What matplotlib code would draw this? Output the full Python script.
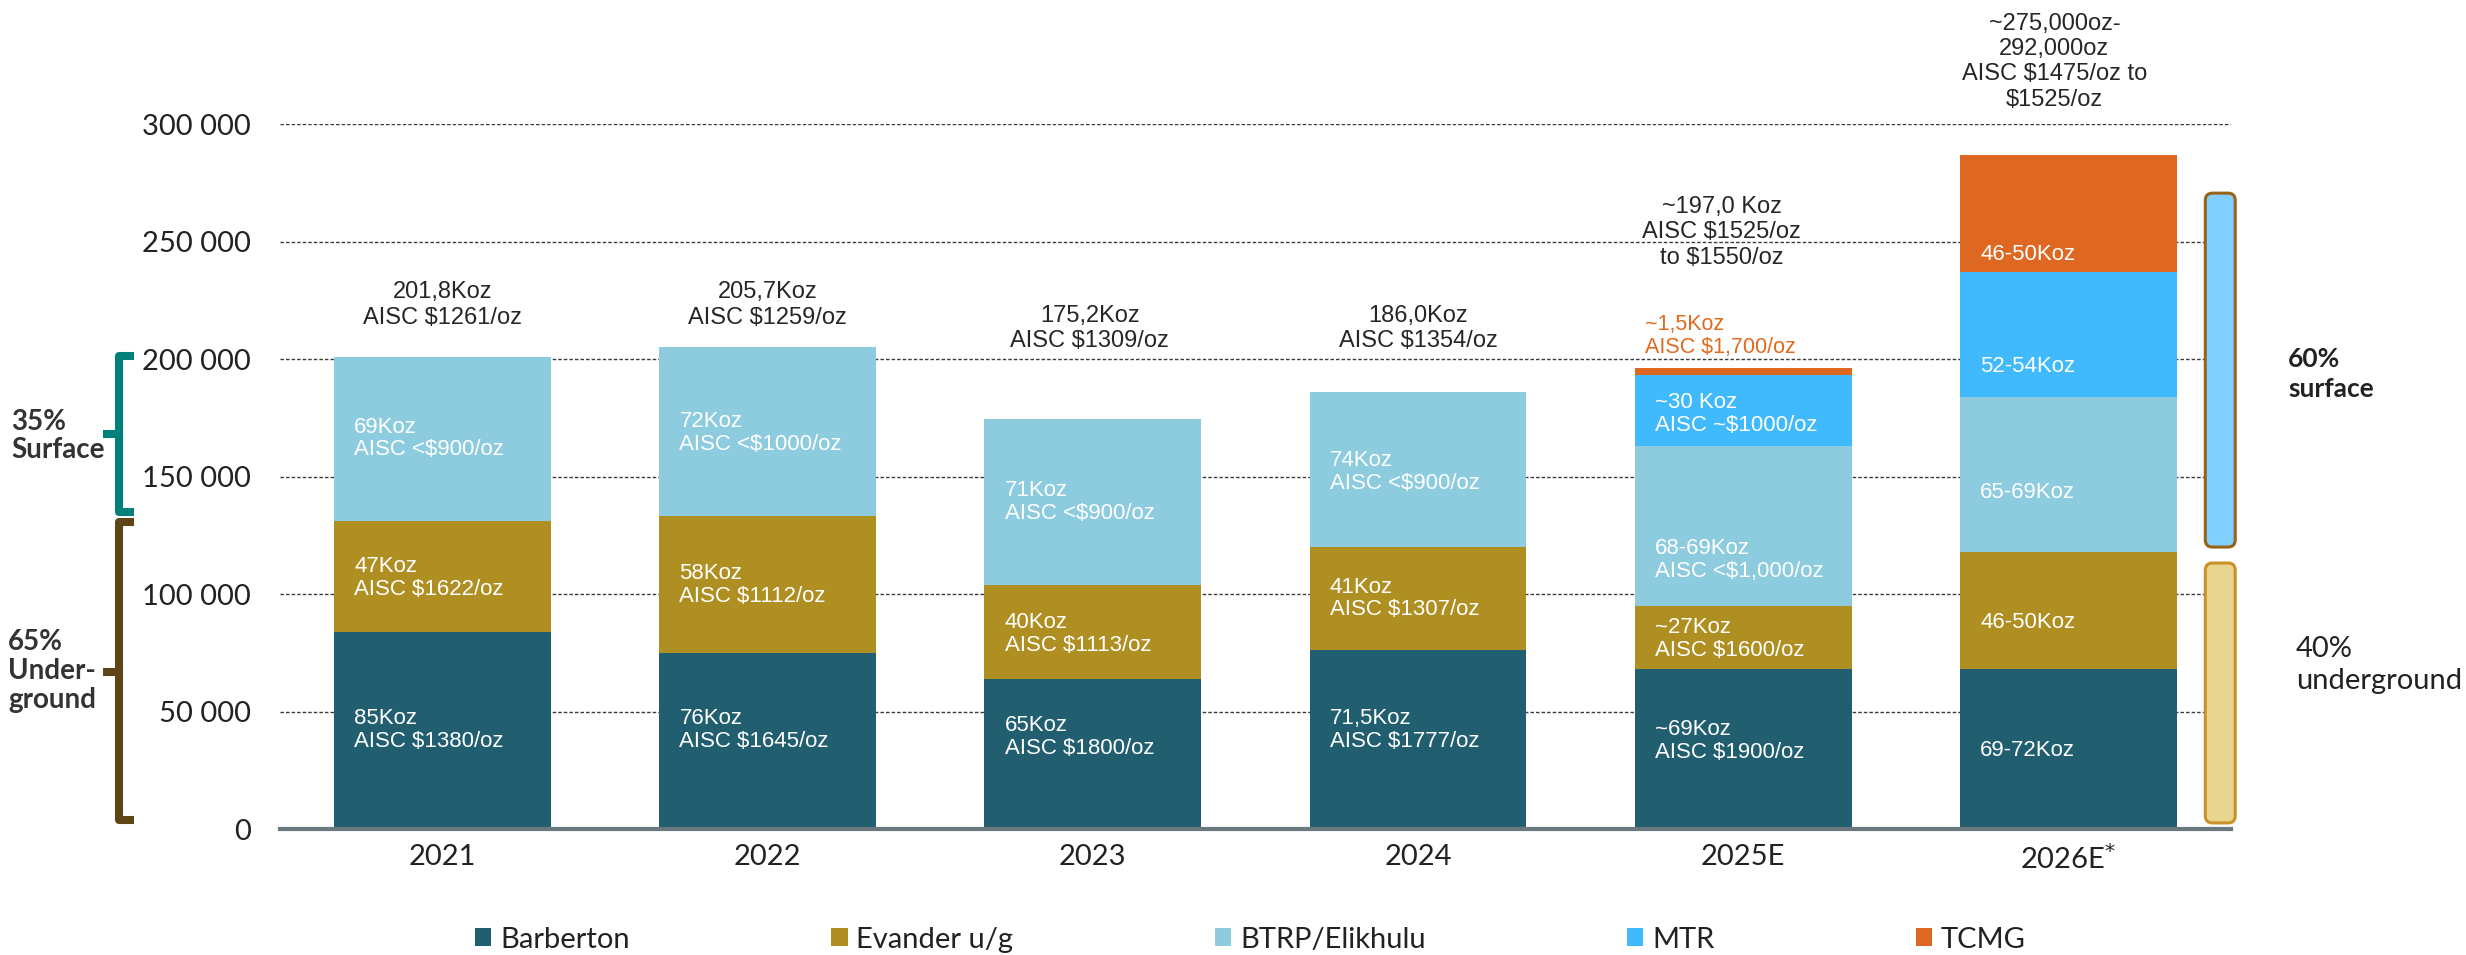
import numpy as np
import matplotlib.pyplot as plt
from matplotlib.patches import FancyBboxPatch
from matplotlib.transforms import blended_transform_factory

# data (oz)
years = ['2021', '2022', '2023', '2024', '2025E', '2026E$^{*}$']
barberton = [84000, 75000, 64000, 76300, 68000, 68000]
evander = [47000, 58200, 40000, 43700, 27000, 50000]
btrp = [70000, 71800, 70500, 66000, 68000, 66000]
mtr = [0, 0, 0, 0, 30000, 53000]
tcmg = [0, 0, 0, 0, 3000, 50000]

series_names = ['Barberton', 'Evander u/g', 'BTRP/Elikhulu', 'MTR', 'TCMG']
colors = ['#215F70', '#B08F22', '#8DCBDE', '#40BAFD', '#DE6821']

# text inside the bars
lbl_barberton = ['85Koz\nAISC $1380/oz', '76Koz\nAISC $1645/oz', '65Koz\nAISC $1800/oz',
                 '71,5Koz\nAISC $1777/oz', '~69Koz\nAISC $1900/oz', '69-72Koz']
lbl_evander = ['47Koz\nAISC $1622/oz', '58Koz\nAISC $1112/oz', '40Koz\nAISC $1113/oz',
               '41Koz\nAISC $1307/oz', '~27Koz\nAISC $1600/oz', '46-50Koz']
lbl_btrp = ['69Koz\nAISC <$900/oz', '72Koz\nAISC <$1000/oz', '71Koz\nAISC <$900/oz',
            '74Koz\nAISC <$900/oz', '68-69Koz\nAISC <$1,000/oz', '65-69Koz']
lbl_mtr = ['', '', '', '', '~30 Koz\nAISC ~$1000/oz', '52-54Koz']
lbl_tcmg = ['', '', '', '', '', '46-50Koz']

# label heights (layout)
pos_barberton = [42000, 42000, 39100, 42000, 37600, 33400]
pos_evander = [107000, 104000, 83000, 98100, 81000, 87900]
pos_btrp = [166200, 168700, 139100, 152100, 114600, 143000]
pos_mtr = [0, 0, 0, 0, 176700, 196700]
pos_tcmg = [0, 0, 0, 0, 0, 244700]

totals_lbl = ['201,8Koz\nAISC $1261/oz', '205,7Koz\nAISC $1259/oz', '175,2Koz\nAISC $1309/oz',
              '186,0Koz\nAISC $1354/oz', '~197,0 Koz\nAISC $1525/oz\nto $1550/oz',
              '~275,000oz-\n292,000oz\nAISC $1475/oz to\n$1525/oz']
totals_pos = [223000, 223000, 213000, 213000, 254000, 326500]
totals_dx = [0, 0, -0.01, 0, -0.066, -0.043]

fig = plt.figure(figsize=(24.66, 9.55), dpi=100)
ax = fig.add_axes([0.1135, 0.1319, 0.7912, 0.7382])

x = np.arange(len(years))
width = 0.667
all_vals = [barberton, evander, btrp, mtr, tcmg]
all_lbls = [lbl_barberton, lbl_evander, lbl_btrp, lbl_mtr, lbl_tcmg]
all_pos = [pos_barberton, pos_evander, pos_btrp, pos_mtr, pos_tcmg]

bottom = np.zeros(len(years))
handles = []
for vals, name, col in zip(all_vals, series_names, colors):
    h = ax.bar(x, vals, width, bottom=bottom, color=col, label=name, zorder=2)
    handles.append(h)
    bottom += np.array(vals)

for lbls, pos in zip(all_lbls, all_pos):
    for i, (t, p) in enumerate(zip(lbls, pos)):
        if t:
            ax.text(x[i] - width / 2 + 0.062, p, t, color='white', fontsize=16,
                    family='Liberation Sans', ha='left', va='center', linespacing=1.12, zorder=3)

for i, (t, p, dx) in enumerate(zip(totals_lbl, totals_pos, totals_dx)):
    ax.text(x[i] + dx, p, t, color='#262626', fontsize=17, family='Liberation Sans',
            ha='center', va='center', linespacing=1.2, clip_on=False)

# small TCMG note for 2025E
ax.text(x[4] - width / 2 + 0.03, 209800, '~1,5Koz\nAISC $1,700/oz', color='#E06A1E',
        fontsize=15.5, family='Liberation Sans', ha='left', va='center', linespacing=1.12)

ax.set_xlim(-0.5, 5.5)
ax.set_ylim(0, 300000)
ax.set_yticks(np.arange(0, 300001, 50000))
ax.set_yticklabels(['0', '50 000', '100 000', '150 000', '200 000', '250 000', '300 000'])
ax.set_xticks(x)
ax.set_xticklabels(years)
ax.tick_params(length=0, labelsize=21, labelcolor='#222222')
ax.tick_params(axis='y', pad=21)
ax.tick_params(axis='x', pad=11)
for lab in ax.get_xticklabels() + ax.get_yticklabels():
    lab.set_family('Lato')

ax.yaxis.grid(True, linestyle=(0, (2.5, 1.5)), linewidth=1.0, color='#3A3A3A')
ax.set_axisbelow(True)
for s in ['left', 'right', 'top']:
    ax.spines[s].set_visible(False)
ax.spines['bottom'].set_color('#6A797E')
ax.spines['bottom'].set_linewidth(3)

# right hand share bars
asp = 138500
ax.add_patch(FancyBboxPatch((5.421, 120000), 0.092, 150600,
                            boxstyle='round,pad=0,rounding_size=0.022', mutation_aspect=asp,
                            facecolor='#80CFFF', edgecolor='#966414', linewidth=2.2, clip_on=False))
ax.add_patch(FancyBboxPatch((5.421, 2600), 0.092, 110600,
                            boxstyle='round,pad=0,rounding_size=0.022', mutation_aspect=asp,
                            facecolor='#E8D590', edgecolor='#CB9128', linewidth=2.2, clip_on=False))
ax.text(5.676, 193600, '60%\nsurface', fontsize=19, family='Lato', fontweight='bold',
        color='#222222', ha='left', va='center', linespacing=1.3, clip_on=False)
ax.text(5.70, 69800, '40%\nunderground', fontsize=21, family='Lato',
        color='#222222', ha='left', va='center', linespacing=1.3, clip_on=False)

# left braces
tr = blended_transform_factory(fig.transFigure, ax.transData)
def brace(y0, y1, ym, col):
    xv, xs, xn = 119 / 2466, 134 / 2466, 103 / 2466
    ax.plot([xs, xv, xv, xs], [y1, y1, y0, y0], color=col, lw=5.8, transform=tr,
            clip_on=False, solid_joinstyle='round', solid_capstyle='butt')
    ax.plot([xn, xv], [ym, ym], color=col, lw=5.8, transform=tr, clip_on=False,
            solid_capstyle='butt')

brace(134900, 201300, 168000, '#00807A')
brace(3800, 130600, 66800, '#5F4515')
ax.text(11 / 2466, 167200, '35%\nSurface', transform=tr, fontsize=20, family='Lato',
        fontweight='bold', color='#333333', ha='left', va='center', linespacing=1.1)
ax.text(8 / 2466, 67200, '65%\nUnder-\nground', transform=tr, fontsize=20, family='Lato',
        fontweight='bold', color='#333333', ha='left', va='center', linespacing=1.15)

leg = fig.legend(handles=handles, labels=series_names, loc='center', ncol=5,
                 bbox_to_anchor=(0.507, 0.016), frameon=False, prop={'family': 'Lato', 'size': 21},
                 handlelength=0.57, handleheight=0.57, handletextpad=0.3, columnspacing=6.9,
                 borderaxespad=0, borderpad=0)
for t in leg.get_texts():
    t.set_color('#222222')

fig.savefig('out.png', dpi=100)
